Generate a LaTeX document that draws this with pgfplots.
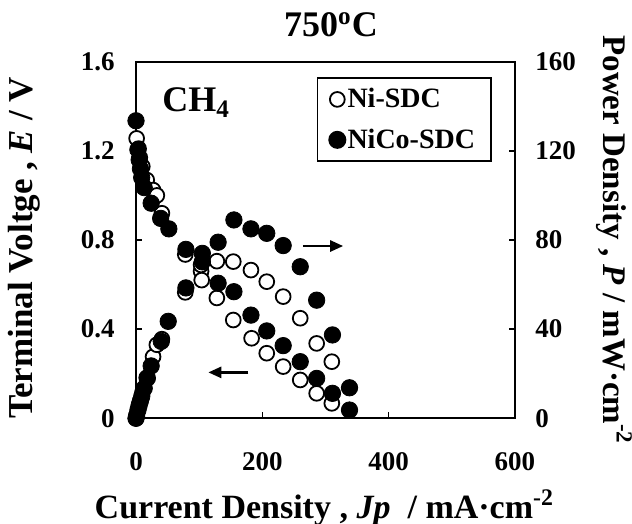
\documentclass[border=0pt]{standalone}
\usepackage[no-math]{fontspec}
\setmainfont{Liberation Serif}
\usepackage{pgfplots}
\usepackage{pgfplotstable}
\pgfplotsset{compat=1.18}
\usetikzlibrary{arrows.meta}

% Ni-SDC terminal voltage (V)
\pgfplotstableread{
x V
1 1.256
4 1.21
6 1.17
10 1.13
17 1.069
27 1.024
33 1.0
41 0.92
78 0.735
103 0.66
104 0.62
128 0.54
154 0.441
183 0.359
207 0.292
233 0.232
260 0.172
286 0.112
310 0.067
}\niV
% Ni-SDC power density (mW cm-2)
\pgfplotstableread{
x P
0 0
1 1.3
4 4.8
6 7.0
10 11.3
17 18.2
27 27.6
33 33
41 35.5
78 56.5
103 68.8
128 70.5
154 70.3
182 66.5
207 61.3
233 54.6
260 44.9
286 33.6
310 25.4
}\niP
% NiCo-SDC terminal voltage (V)
\pgfplotstableread{
x V
0 1.335
3 1.205
5 1.16
7 1.12
9 1.08
13 1.035
24 0.965
39 0.897
52 0.85
79 0.758
105 0.702
130 0.606
155 0.568
182 0.463
207 0.392
233 0.326
260 0.254
286 0.179
311 0.112
338 0.037
}\nicoV
% NiCo-SDC power density (mW cm-2)
\pgfplotstableread{
x P
0 0
1 1.2
3 3.6
5 5.8
7 7.8
9 9.7
13 13.5
18 18
24 23.5
40 34.5
51 43.5
79 58.5
105 74
130 79
155 89
182 85
207 83
233 77.5
260 68
286 53
311 37.4
338 13.7
}\nicoP

\begin{document}
\begin{tikzpicture}
\useasboundingbox (0,0) rectangle (316pt,262pt);
\pgfplotsset{
  common/.style={
    at={(68pt,52.85pt)}, anchor=south west, scale only axis,
    width=189.5pt, height=178.3pt,
    xmin=0, xmax=600, clip=false,
  },
  ticklab/.style={font=\fontsize{13.5}{15}\selectfont\bfseries, inner sep=0pt},
  nistyle/.style={only marks, mark=*, mark size=3.7pt,
    mark options={fill=white, draw=black, line width=0.9pt}},
  nicostyle/.style={only marks, mark=*, mark size=4.1pt,
    mark options={fill=black, draw=black}},
}
% ---- voltage axis (left) ----
\begin{axis}[common,
  ymin=0, ymax=1.6,
  axis line style={line width=1pt},
  xtick={0,200,400,600}, ytick={0,0.4,0.8,1.2,1.6},
  tick align=inside, xtick pos=bottom, ytick pos=left,
  major tick length=3pt, tick style={line width=0.8pt, black},
  xticklabel={\pgfmathprintnumber[assume math mode=true]{\tick}},
  yticklabel={\pgfmathprintnumber[assume math mode=true]{\tick}},
  xticklabel style={ticklab, anchor=north, yshift=-16.9pt},
  yticklabel style={ticklab, anchor=east, xshift=-10.5pt},
  xlabel={Current Density , \textit{Jp}\ \ / mA·cm\textsuperscript{-2}},
  ylabel={Terminal Voltge , \textit{E} / V},
  title={750\textsuperscript{o}C},
  every axis x label/.style={at={(axis description cs:0.497,-0.2796)}, anchor=base,
    font=\fontsize{17}{20}\selectfont\bfseries},
  every axis y label/.style={at={(axis description cs:-0.2718,0.4775)}, rotate=90, anchor=base,
    font=\fontsize{17.5}{20}\selectfont\bfseries},
  every axis title/.style={at={(axis description cs:0.5145,1.0701)}, anchor=base,
    font=\fontsize{18}{20}\selectfont\bfseries},
  legend style={at={(axis description cs:0.9385,0.956)}, anchor=north east,
    draw=black, line width=0.8pt, font=\fontsize{14}{16}\selectfont\bfseries,
    row sep=5pt, column sep=-1pt, inner xsep=5.9pt, inner ysep=3pt,
    nodes={inner xsep=2pt}},
  legend cell align=left,
  legend image code/.code={\draw[#1] plot coordinates {(0cm,0cm)};},
]
\addplot[nistyle] table[x=x, y=V] {\niV};
\addlegendentry{Ni-SDC}
\addlegendimage{nicostyle}
\addlegendentry{NiCo-SDC}
\draw[line width=1.3pt, -{Triangle[length=6.5pt, width=5.5pt]}] (axis cs:264,0.773) -- (axis cs:328,0.773);
\draw[line width=1.3pt, -{Triangle[length=6.5pt, width=5.5pt]}] (axis cs:178,0.206) -- (axis cs:114.5,0.206);
\node[anchor=base west, inner sep=0pt, font=\fontsize{18}{20}\selectfont\bfseries] at (axis cs:41,1.375) {CH\textsubscript{4}};
\end{axis}
% ---- power axis (right) ----
\begin{axis}[common,
  ymin=0, ymax=160,
  axis x line=none, axis y line*=right,
  axis line style={line width=1pt},
  ytick={0,40,80,120,160},
  tick align=inside, ytick pos=right,
  major tick length=3pt, tick style={line width=0.8pt, black},
  yticklabel={\pgfmathprintnumber[assume math mode=true]{\tick}},
  yticklabel style={ticklab, anchor=west, xshift=10pt},
  ylabel={Power Density , \textit{P} / mW·cm\textsuperscript{-2}},
  every axis y label/.style={at={(axis description cs:1.2348,0.5)}, rotate=-90, anchor=base,
    font=\fontsize{16.5}{20}\selectfont\bfseries},
]
\addplot[nistyle] table[x=x, y=P] {\niP};
\addplot[nicostyle] table[x=x, y=P] {\nicoP};
\end{axis}
% ---- NiCo voltage on top ----
\begin{axis}[common, ymin=0, ymax=1.6, hide axis]
\addplot[nicostyle] table[x=x, y=V] {\nicoV};
\end{axis}
\end{tikzpicture}
\end{document}
